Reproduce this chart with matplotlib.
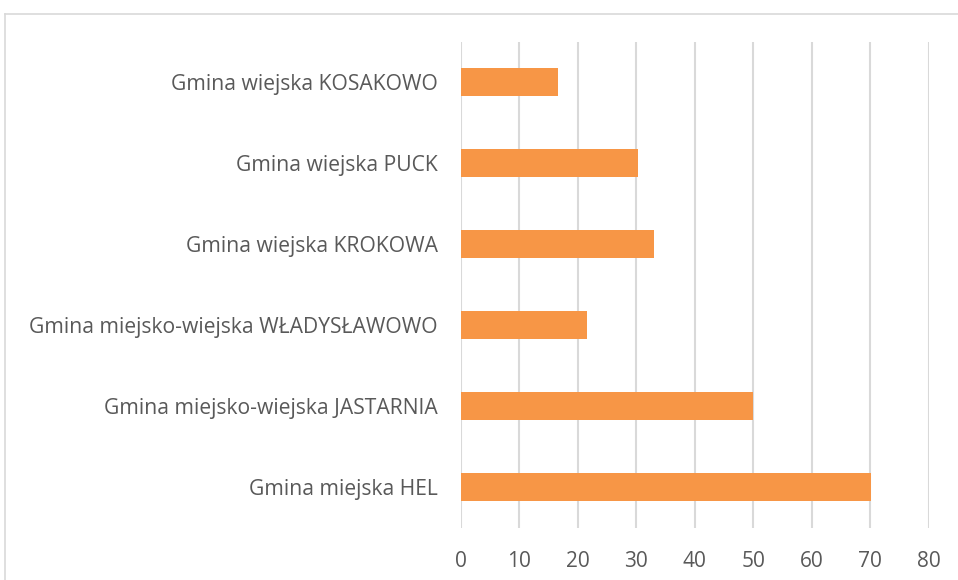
import matplotlib.pyplot as plt
from matplotlib.lines import Line2D

categories = [
    "Gmina miejska HEL",
    "Gmina miejsko-wiejska JASTARNIA",
    "Gmina miejsko-wiejska WŁADYSŁAWOWO",
    "Gmina wiejska KROKOWA",
    "Gmina wiejska PUCK",
    "Gmina wiejska KOSAKOWO",
]
values = [70.2, 50.0, 21.6, 33.0, 30.2, 16.6]
x_ticks = [0, 10, 20, 30, 40, 50, 60, 70, 80]

W, H = 958, 580
fig = plt.figure(figsize=(W / 100, H / 100), dpi=100)
ax = fig.add_axes([461 / W, (H - 527.5) / H, (928.7 - 461) / W, (527.5 - 41.5) / H])

ax.barh(range(len(categories)), values, height=0.35, color="#F79646", zorder=3)
ax.set_ylim(-0.5, len(categories) - 0.5)
ax.set_xlim(0, 80)
ax.set_xticks(x_ticks)
ax.set_yticks(range(len(categories)))
ax.set_yticklabels(categories)

ax.grid(axis="x", color="#D9D9D9", linewidth=1.5, zorder=0)
for s in ax.spines.values():
    s.set_visible(False)
ax.tick_params(axis="both", length=0, labelcolor="#595959")
ax.tick_params(axis="x", pad=17, labelsize=15)
ax.tick_params(axis="y", pad=16.5, labelsize=15.2)
for lbl in ax.get_xticklabels() + ax.get_yticklabels():
    lbl.set_family("Open Sans")

# chart border (only top and left visible in the crop)
fig.add_artist(Line2D([5 / W, 1.0], [1 - 13.5 / H] * 2, color="#D9D9D9", linewidth=1.2))
fig.add_artist(Line2D([5 / W] * 2, [0, 1 - 13.5 / H], color="#D9D9D9", linewidth=1.2))

fig.savefig("out.png", dpi=100)
